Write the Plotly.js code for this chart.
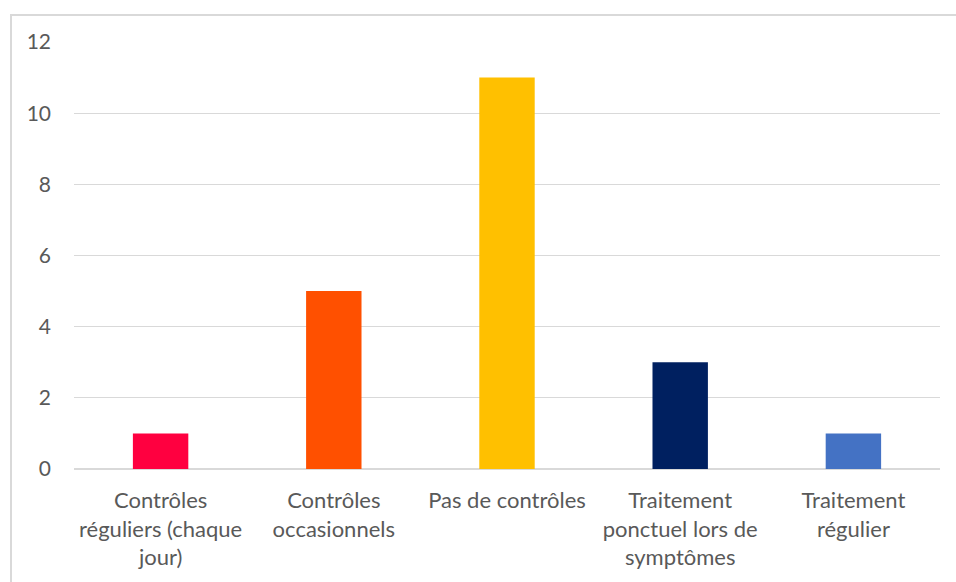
<!DOCTYPE html>
<html>
<head>
<meta charset="utf-8">
<script src="https://cdn.plot.ly/plotly-3.0.1.min.js"></script>
<style>
  html, body { margin: 0; padding: 0; background: #fff; overflow: hidden; }
  #frame { position: absolute; left: 10px; top: 14px; width: 1000px; height: 700px; border: 2px solid #d9d9d9; box-sizing: border-box; }
  #chart { position: absolute; left: 0; top: 0; width: 956px; height: 582px; }
</style>
</head>
<body>
<div id="frame"></div>
<div id="chart"></div>
<script>
const categories = [
  "Contrôles<br>réguliers (chaque<br>jour)",
  "Contrôles<br>occasionnels",
  "Pas de contrôles",
  "Traitement<br>ponctuel lors de<br>symptômes",
  "Traitement<br>régulier"
];
const values = [1, 5, 11, 3, 1];
const barColors = ["#FF0040", "#FF5000", "#FFC000", "#002060", "#4472C4"];
const yTicks = [0, 2, 4, 6, 8, 10, 12];

const trace = {
  type: "bar",
  x: categories,
  y: values,
  marker: { color: barColors },
  hoverinfo: "none"
};

const layout = {
  width: 956,
  height: 582,
  margin: { l: 74, r: 16, t: 42, b: 113 },
  paper_bgcolor: "rgba(0,0,0,0)",
  plot_bgcolor: "rgba(0,0,0,0)",
  bargap: 0.68,
  showlegend: false,
  font: { family: "Lato, 'Open Sans', sans-serif", size: 20, color: "#595959" },
  xaxis: {
    type: "category",
    showgrid: false,
    showline: false,
    zeroline: false,
    ticks: "",
    tickangle: 0,
    ticklabelstandoff: 16,
    tickfont: { size: 22, color: "#595959" }
  },
  yaxis: {
    range: [0, 12],
    tickvals: yTicks,
    ticktext: yTicks.map(String),
    showgrid: true,
    gridcolor: "#d9d9d9",
    gridwidth: 1,
    zeroline: true,
    zerolinecolor: "#d9d9d9",
    zerolinewidth: 1.5,
    showline: false,
    ticks: "",
    ticklabelstandoff: 22,
    tickfont: { size: 21, color: "#595959" }
  }
};

Plotly.newPlot("chart", [trace], layout, { displayModeBar: false, staticPlot: true });
</script>
</body>
</html>
